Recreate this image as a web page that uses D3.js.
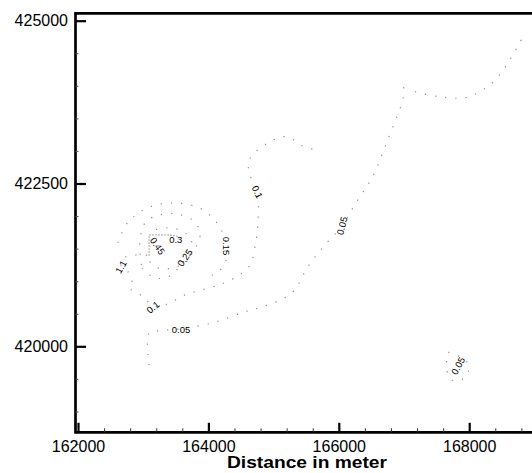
<!DOCTYPE html>
<html>
<head>
<meta charset="utf-8">
<script src="https://cdn.jsdelivr.net/npm/d3@7"></script>
<style>
  html, body { margin: 0; padding: 0; background: #fff; }
  svg { display: block; }
  text { font-family: "Liberation Sans", Arial, Helvetica, sans-serif; }
</style>
</head>
<body>
<svg id="chart" width="532" height="473"></svg>
<script>
// Axis ticks (metres, easting / northing)
const xTicks = [162000, 164000, 166000, 168000];
const yTicks = [420000, 422500, 425000];
const xMinorTicks = d3.range(162400, 169000, 400).filter(v => v % 2000 !== 0);
const yMinorTicks = [418500, 419000, 419500, 420500, 421000, 421500, 422000, 423000, 423500, 424000, 424500];
const xTitle = "Distance in meter";

// Concentration isolines, [easting, northing] in metres
const iso005 = [[163090,419710],[163090,420200],[163260,420240],[163580,420270],[164100,420370],
  [164560,420530],[164870,420620],[165280,420820],[165530,421230],[165790,421560],[166050,421850],
  [166260,422200],[166510,422590],[166750,423170],[166990,423830],[166990,424040]];
const iso005North = [[167170,423910],[167550,423830],[167980,423830],[168400,424090],[168800,424710]];
const iso005East = [[167680,419910],[167890,419820],[168000,419700],[167920,419510],[167740,419480],
  [167650,419670],[167680,419910]];
const iso01 = [[162810,420870],[163000,420760],[163150,420620],[163370,420650],[163640,420790],
  [163950,420880],[164210,420960],[164450,421080],[164640,421250],[164720,421560],[164760,421910],
  [164750,422370],[164620,422680],[164640,422890],[164910,423120],[165190,423220],[165440,423080],
  [165620,423020]];
const iso11 = [[162830,420990],[162770,421140],[162660,421230],[162710,421360],[162870,421400],
  [163070,421400]];
const iso015 = [[162610,421590],[162770,421910],[163100,422140],[163490,422200],[163870,422120],
  [164120,421910],[164250,421660],[164290,421400],[164180,421170],[163950,421050]];
const iso025 = [[162980,421200],[163180,421050],[163410,421080],[163640,421330],[163830,421560],
  [163870,421760],[163750,421940],[163530,422030],[163260,422020],[163040,421910],[162950,421630],
  [162980,421200]];
const iso03 = [[163100,421300],[163230,421200],[163440,421200],[163660,421300],[163750,421480],
  [163720,421660],[163600,421770],[163380,421820],[163180,421790]];
const iso05 = [[163090,421390],[163090,421710],[163400,421710],[163530,421690]];

const isolines = [iso005, iso005North, iso005East, iso01, iso11, iso015, iso025, iso03];

// Isoline labels: text, easting, northing, text angle (deg)
const labelText  = ["0.05", "0.05", "0.1", "1.1", "0.3", "0.45", "0.25", "0.15", "0.1", "0.05"];
const labelEast  = [167830, 163580, 163150, 162660, 163500, 163220, 163640, 164270, 164750, 166050];
const labelNorth = [419700, 420250, 420600, 421220, 421630, 421540, 421360, 421540, 422370, 421850];
const labelAngle = [-62, 0, -40, -60, 0, 55, -55, 90, 65, -75];

const svg = d3.select("#chart");

const frame = { left: 75.5, top: 13.3, bottom: 432.3, right: 560 };

const x = d3.scaleLinear().domain([162000, 169000]).range([78, 534.4]);
const y = d3.scaleLinear().domain([420000, 425000]).range([346.3, 20.7]);

// isolines (sparse dotted)
const line = d3.line().x(d => x(d[0])).y(d => y(d[1])).curve(d3.curveCatmullRom);
svg.append("g")
  .selectAll("path")
  .data(isolines)
  .join("path")
  .attr("d", line)
  .attr("fill", "none")
  .attr("stroke", "#8c8c8c")
  .attr("stroke-width", 1.2)
  .attr("stroke-dasharray", "1.2,9");

svg.append("path")
  .attr("d", d3.line().x(d => x(d[0])).y(d => y(d[1]))(iso05))
  .attr("fill", "none")
  .attr("stroke", "#8a8a8a")
  .attr("stroke-width", 1)
  .attr("stroke-dasharray", "1.5,1.5");

// isoline labels
svg.append("g")
  .selectAll("text")
  .data(labelText)
  .join("text")
  .attr("transform", (d, i) => `translate(${x(labelEast[i])},${y(labelNorth[i])}) rotate(${labelAngle[i]})`)
  .attr("text-anchor", "middle")
  .attr("dy", "0.35em")
  .attr("font-size", 9.5)
  .attr("fill", "#000")
  .text(d => d);

// frame
svg.append("path")
  .attr("d", `M${frame.right},${frame.top}H${frame.left}V${frame.bottom}H${frame.right}`)
  .attr("fill", "none")
  .attr("stroke", "#000")
  .attr("stroke-width", 2.7);

// minor ticks
const xMinor = svg.append("g")
  .attr("transform", `translate(0,${frame.bottom})`)
  .call(d3.axisBottom(x).tickValues(xMinorTicks).tickSize(-4).tickFormat(""));
xMinor.select(".domain").remove();
xMinor.selectAll("line").attr("stroke", "#333").attr("stroke-width", 1);

const yMinor = svg.append("g")
  .attr("transform", `translate(${frame.left},0)`)
  .call(d3.axisLeft(y).tickValues(yMinorTicks).tickSize(-3).tickFormat(""));
yMinor.select(".domain").remove();
yMinor.selectAll("line").attr("stroke", "#555").attr("stroke-width", 1);

// major ticks + labels
const xAxis = svg.append("g")
  .attr("transform", `translate(0,${frame.bottom})`)
  .call(d3.axisBottom(x).tickValues(xTicks).tickSize(-9.5).tickPadding(8.3).tickFormat(d3.format("d")));
xAxis.select(".domain").remove();
xAxis.selectAll("line").attr("stroke", "#000").attr("stroke-width", 2.2);
xAxis.selectAll("text").attr("font-size", 16).attr("fill", "#000")
  .style("font-family", '"Liberation Sans", Arial, sans-serif');

const yAxis = svg.append("g")
  .attr("transform", `translate(${frame.left},0)`)
  .call(d3.axisLeft(y).tickValues(yTicks).tickSize(-10.5).tickPadding(7.5).tickFormat(d3.format("d")));
yAxis.select(".domain").remove();
yAxis.selectAll("line").attr("stroke", "#000").attr("stroke-width", 2.2);
yAxis.selectAll("text").attr("font-size", 16).attr("fill", "#000")
  .style("font-family", '"Liberation Sans", Arial, sans-serif');

// axis title
svg.append("text")
  .attr("x", 227)
  .attr("y", 467.5)
  .attr("font-size", 16)
  .attr("font-weight", "bold")
  .attr("textLength", 160)
  .attr("lengthAdjust", "spacingAndGlyphs")
  .attr("fill", "#000")
  .text(xTitle);
</script>
</body>
</html>
